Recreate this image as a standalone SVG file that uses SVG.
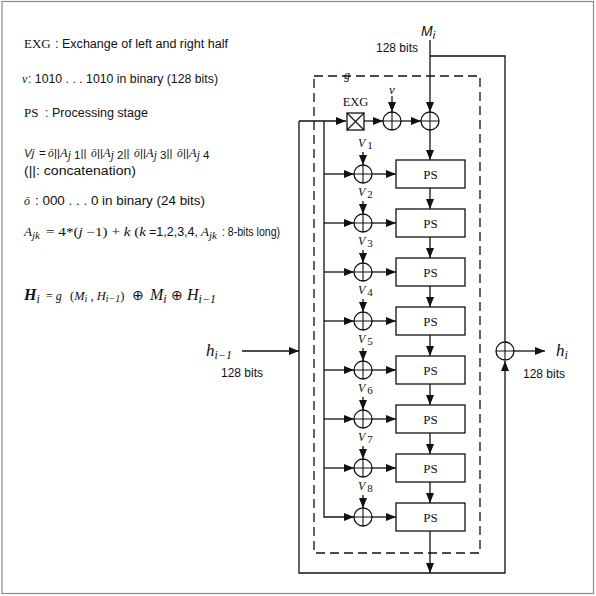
<svg xmlns="http://www.w3.org/2000/svg" width="596" height="596" viewBox="0 0 596 596">
<style>
.sans{font-family:"Liberation Sans",Arial,sans-serif;}
.serif{font-family:"Liberation Serif","Times New Roman",serif;}
.it{font-style:italic;}
.ln{fill:none;stroke:#111;stroke-width:1.3;}
.arr{fill:none;stroke:#111;stroke-width:1.3;marker-end:url(#ah);}
.box{fill:#fff;stroke:#111;stroke-width:1.3;}
.xor{fill:#fff;stroke:#111;stroke-width:1.3;}
.dash{fill:none;stroke:#111;stroke-width:1.3;stroke-dasharray:9 5;}
text{fill:#111;}
</style>
<defs>
<marker id="ah" viewBox="0 0 10 10" refX="10" refY="5" markerWidth="10" markerHeight="8" markerUnits="userSpaceOnUse" orient="auto" preserveAspectRatio="none"><path d="M0,0 L10,5 L0,10 z" fill="#111"/></marker>
<g id="xs"><circle r="9" class="xor"/><path d="M-9,0 H9 M0,-9 V9" stroke="#111" stroke-width="1.1"/></g>
</defs>
<rect x="2" y="1.5" width="591.5" height="592" fill="#fff" stroke="#8a8a8a" stroke-width="1.2"/>

<!-- legend text -->
<g id="legend">
<text x="24" y="48" class="serif" font-size="13">EXG</text>
<text x="55" y="48" class="sans" font-size="12.5" textLength="173" lengthAdjust="spacingAndGlyphs">: Exchange of left and right half</text>
<text x="22" y="83" class="serif it" font-size="12">v</text>
<text x="28" y="83" class="sans" font-size="12.5" textLength="190" lengthAdjust="spacingAndGlyphs">: 1010 . . . 1010 in binary (128 bits)</text>
<text x="24" y="117" class="serif" font-size="13">PS</text>
<text x="45" y="117" class="sans" font-size="12.5" textLength="103" lengthAdjust="spacingAndGlyphs">: Processing stage</text>

<g font-size="11.5">
<text x="24" y="157" class="sans it">Vj</text>
<text x="39" y="157" class="sans">=</text>
<text x="48" y="157" class="serif it">ō</text>
<text x="54" y="157" class="sans">||<tspan class="serif it" font-size="12.5">A</tspan><tspan dy="2"><tspan class="serif it">j</tspan> 1</tspan><tspan dy="-2">||</tspan></text>
<text x="91" y="157" class="serif it">ō</text>
<text x="97" y="157" class="sans">||<tspan class="serif it" font-size="12.5">A</tspan><tspan dy="2"><tspan class="serif it">j</tspan> 2</tspan><tspan dy="-2">||</tspan></text>
<text x="134" y="157" class="serif it">ō</text>
<text x="140" y="157" class="sans">||<tspan class="serif it" font-size="12.5">A</tspan><tspan dy="2"><tspan class="serif it">j</tspan> 3</tspan><tspan dy="-2">||</tspan></text>
<text x="177" y="157" class="serif it">ō</text>
<text x="183" y="157" class="sans">||<tspan class="serif it" font-size="12.5">A</tspan><tspan dy="2"><tspan class="serif it">j</tspan> 4</tspan></text>
</g>
<text x="24" y="175" class="sans" font-size="12.5" textLength="112" lengthAdjust="spacingAndGlyphs">(||: concatenation)</text>
<text x="24" y="205" class="serif it" font-size="12">ō</text>
<text x="35" y="205" class="sans" font-size="12.5" textLength="170" lengthAdjust="spacingAndGlyphs">: 000 . . . 0 in binary (24 bits)</text>

<text x="24" y="236" class="serif it" font-size="13">A<tspan font-size="11" dy="3">jk</tspan></text>
<text x="46" y="236" class="serif" font-size="12" textLength="100" lengthAdjust="spacingAndGlyphs">= 4*(<tspan class="it">j</tspan> −1) + <tspan class="it">k</tspan> (<tspan class="it">k</tspan></text>
<text x="149" y="236" class="sans" font-size="12.5">=1,2,3,4,</text>
<text x="201" y="236" class="serif it" font-size="13">A<tspan font-size="11" dy="3">jk</tspan></text>
<text x="222" y="236" class="sans" font-size="12.5" textLength="58" lengthAdjust="spacingAndGlyphs">: 8-bits long)</text>

<text x="24" y="300" class="serif it" font-weight="bold" font-size="16">H<tspan font-weight="normal" font-size="12" dy="3">i</tspan></text>
<text x="46" y="300" class="serif" font-size="12">= <tspan class="it">g</tspan></text>
<text x="70" y="300" class="serif" font-size="12.5">(<tspan class="it">M</tspan><tspan class="it" font-size="10" dy="2">i</tspan><tspan dy="-2"> , </tspan><tspan class="it">H</tspan><tspan class="it" font-size="10" dy="2">i−1</tspan><tspan dy="-2">)</tspan></text>
<text x="132" y="300" class="sans" font-size="14">⊕</text>
<text x="150" y="300" class="serif it" font-size="16">M<tspan font-size="12" dy="3">i</tspan></text>
<text x="171" y="300" class="sans" font-size="14">⊕</text>
<text x="187" y="300" class="serif it" font-size="16">H<tspan font-size="12" dy="3">i−1</tspan></text>
</g>

<!-- dashed g box -->
<g id="g-box">
<rect x="314" y="76" width="166" height="477" class="dash"/>
<text x="344" y="79" class="serif it" font-size="12">g</text>
</g>

<!-- connectors -->
<g id="connectors">
<path class="arr" d="M430,40 V112"/>
<path class="ln" d="M430,56 H505 V342"/>
<path class="arr" d="M299,121 H346"/>
<path class="arr" d="M299,121 V573 H505 V361"/>
<path class="arr" d="M324,121 V517 H354"/>
<path class="arr" d="M364,121 H383"/>
<path class="arr" d="M401,121 H421"/>
<path class="arr" d="M392,96 V112"/>
<path class="arr" d="M430,130 V160"/>
<path class="arr" d="M324,174 H354"/>
<path class="arr" d="M324,223 H354"/>
<path class="arr" d="M324,272 H354"/>
<path class="arr" d="M324,321 H354"/>
<path class="arr" d="M324,370 H354"/>
<path class="arr" d="M324,419 H354"/>
<path class="arr" d="M324,468 H354"/>
<path class="arr" d="M372,174 H396"/>
<path class="arr" d="M372,223 H396"/>
<path class="arr" d="M372,272 H396"/>
<path class="arr" d="M372,321 H396"/>
<path class="arr" d="M372,370 H396"/>
<path class="arr" d="M372,419 H396"/>
<path class="arr" d="M372,468 H396"/>
<path class="arr" d="M372,517 H396"/>
<path class="arr" d="M363,152 V165"/>
<path class="arr" d="M363,201 V214"/>
<path class="arr" d="M363,250 V263"/>
<path class="arr" d="M363,299 V312"/>
<path class="arr" d="M363,348 V361"/>
<path class="arr" d="M363,397 V410"/>
<path class="arr" d="M363,446 V459"/>
<path class="arr" d="M363,495 V508"/>
<path class="arr" d="M430,188 V209"/>
<path class="arr" d="M430,237 V258"/>
<path class="arr" d="M430,286 V307"/>
<path class="arr" d="M430,335 V356"/>
<path class="arr" d="M430,384 V405"/>
<path class="arr" d="M430,433 V454"/>
<path class="arr" d="M430,482 V503"/>
<path class="arr" d="M430,531 V573"/>
<path class="arr" d="M242,351 H299"/>
<path class="arr" d="M513,351 H545"/>
</g>

<!-- nodes -->
<g id="exg">
<rect x="347" y="113" width="17" height="17" class="box"/>
<path d="M347,113 L364,130 M364,113 L347,130" stroke="#111" stroke-width="1.1"/>
<text x="355.5" y="106" class="serif" font-size="12.5" text-anchor="middle">EXG</text>
</g>
<g id="xor-v"><use href="#xs" x="392" y="121"/><text x="392" y="94" class="serif it" font-size="13" text-anchor="middle">v</text></g>
<g id="xor-m"><use href="#xs" x="430" y="121"/></g>
<g id="xor-out"><use href="#xs" x="505" y="351"/></g>

<g id="xor1"><use href="#xs" x="363" y="174"/><text x="358" y="147" class="serif it" font-size="12">V<tspan class="serif" font-style="normal" font-size="11" dx="2" dy="2">1</tspan></text></g>
<g id="xor2"><use href="#xs" x="363" y="223"/><text x="358" y="196" class="serif it" font-size="12">V<tspan class="serif" font-style="normal" font-size="11" dx="2" dy="2">2</tspan></text></g>
<g id="xor3"><use href="#xs" x="363" y="272"/><text x="358" y="245" class="serif it" font-size="12">V<tspan class="serif" font-style="normal" font-size="11" dx="2" dy="2">3</tspan></text></g>
<g id="xor4"><use href="#xs" x="363" y="321"/><text x="358" y="294" class="serif it" font-size="12">V<tspan class="serif" font-style="normal" font-size="11" dx="2" dy="2">4</tspan></text></g>
<g id="xor5"><use href="#xs" x="363" y="370"/><text x="358" y="343" class="serif it" font-size="12">V<tspan class="serif" font-style="normal" font-size="11" dx="2" dy="2">5</tspan></text></g>
<g id="xor6"><use href="#xs" x="363" y="419"/><text x="358" y="392" class="serif it" font-size="12">V<tspan class="serif" font-style="normal" font-size="11" dx="2" dy="2">6</tspan></text></g>
<g id="xor7"><use href="#xs" x="363" y="468"/><text x="358" y="441" class="serif it" font-size="12">V<tspan class="serif" font-style="normal" font-size="11" dx="2" dy="2">7</tspan></text></g>
<g id="xor8"><use href="#xs" x="363" y="517"/><text x="358" y="490" class="serif it" font-size="12">V<tspan class="serif" font-style="normal" font-size="11" dx="2" dy="2">8</tspan></text></g>

<g id="ps1"><rect x="396" y="160" width="69" height="28" class="box"/><text x="430.5" y="179" class="serif" font-size="13" text-anchor="middle">PS</text></g>
<g id="ps2"><rect x="396" y="209" width="69" height="28" class="box"/><text x="430.5" y="228" class="serif" font-size="13" text-anchor="middle">PS</text></g>
<g id="ps3"><rect x="396" y="258" width="69" height="28" class="box"/><text x="430.5" y="277" class="serif" font-size="13" text-anchor="middle">PS</text></g>
<g id="ps4"><rect x="396" y="307" width="69" height="28" class="box"/><text x="430.5" y="326" class="serif" font-size="13" text-anchor="middle">PS</text></g>
<g id="ps5"><rect x="396" y="356" width="69" height="28" class="box"/><text x="430.5" y="375" class="serif" font-size="13" text-anchor="middle">PS</text></g>
<g id="ps6"><rect x="396" y="405" width="69" height="28" class="box"/><text x="430.5" y="424" class="serif" font-size="13" text-anchor="middle">PS</text></g>
<g id="ps7"><rect x="396" y="454" width="69" height="28" class="box"/><text x="430.5" y="473" class="serif" font-size="13" text-anchor="middle">PS</text></g>
<g id="ps8"><rect x="396" y="503" width="69" height="28" class="box"/><text x="430.5" y="522" class="serif" font-size="13" text-anchor="middle">PS</text></g>

<!-- io labels -->
<g id="label-mi">
<text x="421" y="36" class="sans it" font-size="14">M<tspan font-size="11" dy="3">i</tspan></text>
<text x="376" y="52" class="sans" font-size="12">128 bits</text>
</g>
<g id="label-hin">
<text x="206" y="356" class="serif it" font-size="17">h<tspan font-size="12" dy="3">i−1</tspan></text>
<text x="221" y="377" class="sans" font-size="12">128 bits</text>
</g>
<g id="label-hout">
<text x="556" y="356" class="serif it" font-size="17">h<tspan font-size="12" dy="3">i</tspan></text>
<text x="523" y="378" class="sans" font-size="12">128 bits</text>
</g>
</svg>
